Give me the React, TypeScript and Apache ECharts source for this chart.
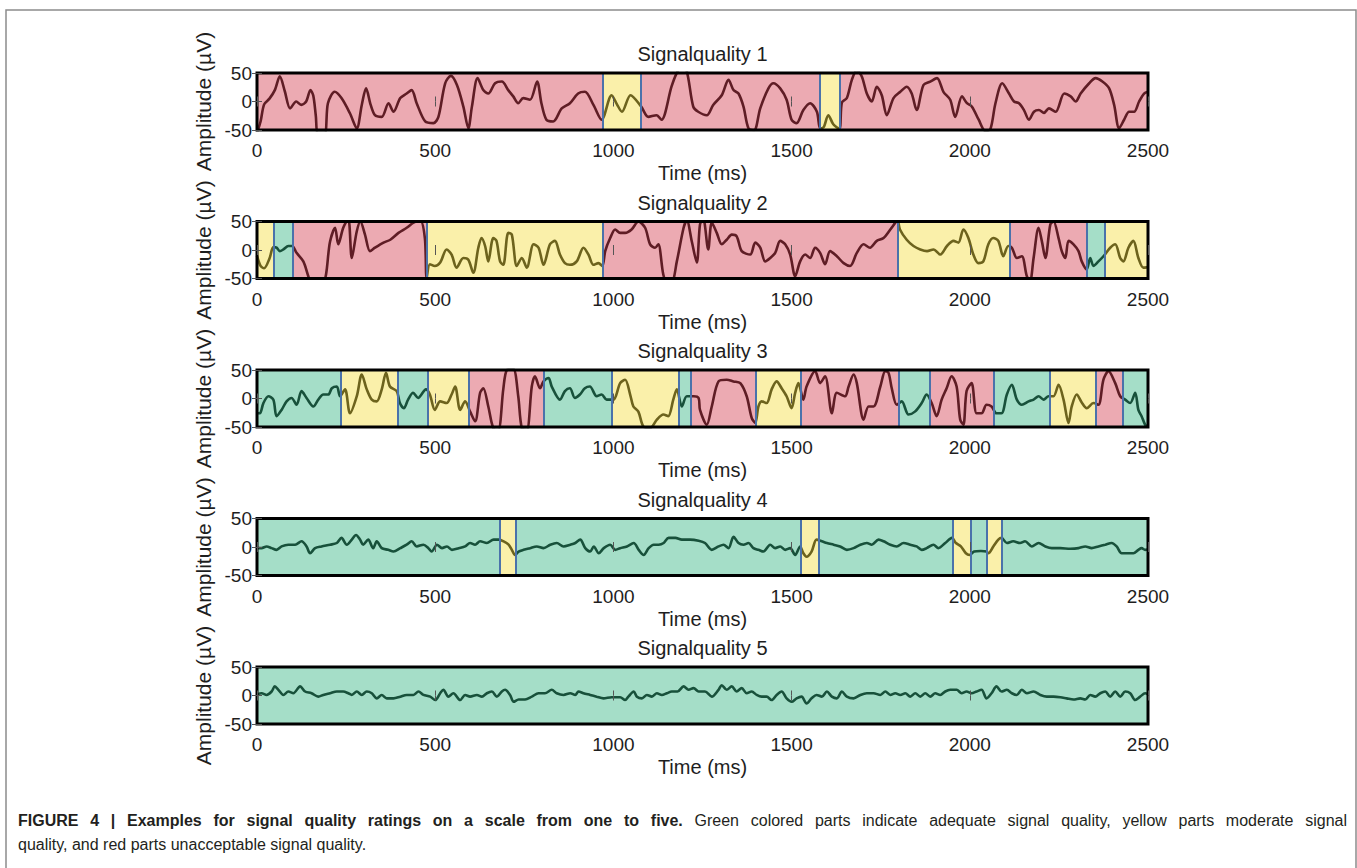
import { useEffect, useRef } from 'react';
import * as echarts from 'echarts';

const titles = ['Signalquality 1', 'Signalquality 2', 'Signalquality 3', 'Signalquality 4', 'Signalquality 5'];
const xName = 'Time (ms)';
const yName = 'Amplitude (µV)';
const xMin = 0, xMax = 2500, xStep = 500;
const yMin = -50, yMax = 50, yStep = 50;

const captionBold = 'FIGURE 4 | Examples for signal quality ratings on a scale from one to five.';
const captionLine1 = 'Green colored parts indicate adequate signal quality, yellow parts moderate signal';
const captionLine2 = 'quality, and red parts unacceptable signal quality.';

// signal traces [time ms, amplitude µV]
const sig1 = [[0,-55],[10,-35],[20,-5],[35,5],[50,20],[64,44],[78,18],[93,-12],[110,0],[124,-6],[138,0],[150,20],[158,10],[165,-25],[171,-55],[190,-55],[199,-3],[218,17],[237,6],[261,-21],[280,-47],[294,-6],[306,23],[319,-6],[331,-24],[350,-27],[369,-3],[383,-18],[402,6],[420,14],[434,20],[448,-3],[472,-35],[495,-38],[509,-27],[528,32],[544,45],[561,29],[579,-9],[593,-47],[603,-9],[619,41],[635,20],[649,14],[668,32],[687,35],[705,20],[719,9],[733,-3],[747,6],[766,3],[786,35],[798,-3],[812,-32],[831,-35],[855,-12],[878,-3],[901,14],[920,17],[944,-6],[967,-32],[995,11],[1010,-5],[1024,-18],[1048,11],[1078,-9],[1098,-27],[1121,-24],[1135,-32],[1163,26],[1177,49],[1190,60],[1205,55],[1224,-9],[1238,-18],[1262,-24],[1280,-6],[1304,11],[1323,38],[1337,20],[1351,14],[1365,-9],[1379,-47],[1395,-50],[1412,-12],[1435,23],[1449,32],[1468,23],[1486,3],[1500,-32],[1514,-38],[1533,-15],[1552,-3],[1571,-18],[1580,-47],[1590,-45],[1603,-24],[1617,-40],[1634,-48],[1641,-2],[1655,6],[1669,38],[1683,55],[1697,44],[1711,14],[1725,0],[1739,26],[1753,11],[1767,-24],[1786,6],[1805,17],[1823,26],[1837,14],[1851,-15],[1870,29],[1889,35],[1908,41],[1926,17],[1945,3],[1959,-27],[1978,9],[1992,-3],[2006,-9],[2025,-32],[2044,-52],[2058,-48],[2072,-3],[2091,32],[2110,14],[2124,0],[2138,-3],[2152,-15],[2166,-32],[2180,-18],[2194,-15],[2208,-20],[2222,-12],[2241,-18],[2265,14],[2283,9],[2297,0],[2311,14],[2335,32],[2353,41],[2372,35],[2391,23],[2405,-6],[2419,-47],[2433,-32],[2447,-18],[2461,-18],[2475,0],[2489,14],[2500,17]];
const sig2 = [[0,-10],[10,-28],[20,-32],[35,-15],[46,5],[55,4],[64,-2],[74,1],[88,7],[99,7],[111,-5],[130,-20],[144,-46],[150,-55],[185,-55],[205,15],[219,39],[228,10],[242,39],[256,55],[266,-14],[280,33],[290,50],[303,27],[317,-2],[331,4],[355,13],[374,18],[397,30],[420,39],[439,48],[458,52],[471,21],[476,-49],[485,-25],[499,-28],[514,-22],[532,1],[546,-8],[560,-31],[579,-14],[593,-17],[607,-40],[621,4],[630,21],[640,7],[649,-20],[663,21],[672,16],[682,-20],[691,-26],[705,30],[715,27],[729,-28],[743,-14],[757,-31],[776,10],[790,4],[804,-26],[822,10],[836,16],[850,-8],[864,-23],[878,-26],[897,-20],[916,4],[930,-8],[944,-26],[958,-23],[969,-28],[977,-2],[991,21],[1005,36],[1019,30],[1033,30],[1051,36],[1070,50],[1089,39],[1103,10],[1117,4],[1126,10],[1140,-43],[1150,-55],[1164,-55],[1178,-20],[1197,39],[1206,52],[1220,15],[1234,-22],[1243,45],[1252,55],[1266,1],[1276,48],[1290,30],[1304,10],[1318,18],[1332,27],[1346,24],[1360,-2],[1384,-8],[1398,13],[1412,4],[1426,-20],[1440,-14],[1454,-5],[1468,16],[1482,10],[1496,-8],[1510,-46],[1524,-20],[1538,-8],[1552,-14],[1566,4],[1580,-5],[1594,-25],[1608,-2],[1627,-11],[1646,-23],[1664,-28],[1683,-5],[1702,10],[1720,4],[1739,16],[1758,21],[1777,36],[1791,48],[1797,53],[1804,36],[1823,18],[1842,7],[1861,1],[1880,-2],[1898,1],[1917,-8],[1936,7],[1954,16],[1968,13],[1982,36],[1996,21],[2010,-8],[2024,-23],[2038,-20],[2052,10],[2066,21],[2080,16],[2094,-11],[2108,7],[2118,4],[2132,-14],[2146,-11],[2160,-46],[2169,-55],[2179,-14],[2193,39],[2202,16],[2212,-14],[2226,45],[2235,50],[2249,21],[2258,-2],[2268,-14],[2277,16],[2291,10],[2305,-2],[2314,-20],[2328,-34],[2338,-14],[2347,-28],[2361,-20],[2375,-11],[2394,4],[2408,10],[2422,-14],[2431,-20],[2445,4],[2459,16],[2473,-14],[2487,-31],[2500,-30]];
const sig3 = [[0,-26],[8,-26],[18,-8],[32,4],[46,-2],[55,-31],[69,-20],[83,-5],[97,1],[111,-11],[125,13],[139,1],[158,-14],[172,-2],[186,7],[200,7],[210,18],[224,21],[233,4],[247,16],[261,-26],[280,4],[294,42],[308,16],[322,-2],[336,-5],[350,16],[362,45],[373,21],[392,13],[401,-8],[412,-17],[424,-2],[438,10],[452,1],[474,16],[485,7],[499,-20],[514,-5],[532,-8],[546,7],[556,21],[570,-20],[584,-5],[598,-23],[612,-40],[626,10],[635,18],[649,-14],[663,-52],[677,-55],[691,16],[701,50],[719,52],[733,4],[743,-52],[757,-55],[771,21],[780,39],[794,18],[804,30],[818,36],[827,21],[850,-2],[864,13],[878,18],[892,1],[906,7],[920,18],[934,21],[953,4],[967,7],[981,-2],[1000,-2],[1019,27],[1033,33],[1047,7],[1056,-14],[1070,-23],[1084,-49],[1103,-52],[1122,-37],[1140,-28],[1154,-31],[1168,-2],[1178,16],[1192,-14],[1206,4],[1225,4],[1239,1],[1243,-20],[1262,-46],[1276,-14],[1295,30],[1318,33],[1337,30],[1356,27],[1374,4],[1388,-34],[1398,-43],[1407,-14],[1416,-5],[1430,-8],[1444,16],[1458,30],[1472,18],[1486,4],[1500,-17],[1510,10],[1519,27],[1533,-2],[1542,21],[1566,48],[1580,27],[1594,39],[1613,-26],[1627,10],[1650,4],[1660,21],[1674,42],[1683,27],[1702,-37],[1716,-14],[1730,-14],[1749,21],[1763,48],[1772,45],[1781,18],[1795,-11],[1809,-5],[1828,-28],[1846,-23],[1865,-8],[1879,7],[1893,-8],[1907,-31],[1921,-2],[1935,18],[1949,39],[1963,21],[1973,-37],[1982,-46],[1991,13],[2005,27],[2019,-26],[2033,-26],[2047,-11],[2061,-14],[2075,-26],[2089,-26],[2104,7],[2118,24],[2132,-2],[2146,-11],[2165,-5],[2179,-2],[2193,4],[2207,-2],[2221,4],[2235,4],[2249,24],[2263,-2],[2277,-43],[2286,-14],[2300,7],[2315,-8],[2328,-17],[2347,-8],[2361,-11],[2375,33],[2389,48],[2408,27],[2422,4],[2436,-2],[2450,-8],[2464,10],[2473,-20],[2482,-31],[2492,-46],[2500,-50]];
const sig4 = [[0,-2],[13,-2],[27,1],[41,-2],[55,-5],[69,1],[88,4],[107,4],[125,10],[139,1],[149,-11],[163,-2],[181,1],[205,4],[224,7],[237,16],[252,4],[266,13],[278,21],[289,13],[298,4],[312,13],[326,-2],[336,10],[350,-2],[368,-5],[383,-8],[402,-2],[420,4],[434,10],[448,1],[467,4],[481,-2],[490,-8],[505,4],[519,-2],[533,1],[547,-5],[566,-2],[584,1],[598,7],[612,4],[626,10],[645,7],[664,13],[678,13],[692,10],[706,4],[715,-5],[724,-14],[734,-8],[748,-5],[766,-2],[785,1],[804,-2],[823,4],[841,7],[860,1],[879,4],[893,7],[907,13],[921,-2],[935,-8],[945,1],[959,-11],[973,-2],[991,4],[1005,-5],[1019,-2],[1038,1],[1057,7],[1071,-5],[1085,-14],[1099,-2],[1113,4],[1127,4],[1141,7],[1155,16],[1174,16],[1192,13],[1215,13],[1239,11],[1257,7],[1276,-5],[1295,1],[1309,4],[1323,-2],[1337,18],[1351,7],[1365,4],[1379,7],[1393,-2],[1407,-5],[1421,-8],[1440,4],[1454,-2],[1468,1],[1482,-5],[1496,-2],[1510,-14],[1524,1],[1533,-11],[1542,-17],[1556,-8],[1570,13],[1585,10],[1599,7],[1618,4],[1636,1],[1655,-5],[1674,-2],[1693,4],[1711,7],[1725,4],[1744,13],[1758,10],[1777,4],[1795,1],[1814,7],[1833,4],[1851,1],[1865,-5],[1879,-2],[1898,4],[1912,-2],[1931,7],[1950,16],[1961,7],[1975,1],[1989,-11],[1999,-14],[2012,-8],[2031,-7],[2047,-8],[2052,-11],[2066,1],[2080,13],[2089,16],[2104,7],[2122,10],[2141,7],[2155,10],[2174,1],[2193,7],[2212,1],[2230,-2],[2254,-2],[2282,-3],[2305,-2],[2324,1],[2342,-2],[2361,1],[2380,4],[2398,7],[2412,1],[2426,-11],[2440,-11],[2459,-11],[2473,-5],[2482,-2],[2492,-5],[2500,-4]];
const sig5 = [[0,2],[13,4],[27,1],[41,7],[50,16],[60,10],[74,1],[88,7],[102,4],[121,16],[135,7],[153,4],[172,-2],[186,1],[205,4],[224,7],[242,7],[256,4],[266,1],[280,7],[294,1],[308,7],[322,4],[336,-5],[350,1],[364,-5],[383,-5],[402,-2],[420,1],[439,1],[453,7],[467,1],[486,-2],[500,-8],[514,4],[523,10],[537,-2],[551,4],[570,-8],[584,1],[598,-2],[617,1],[631,-2],[645,4],[659,7],[673,-2],[687,7],[696,10],[710,1],[720,-11],[734,-7],[752,-7],[771,-2],[790,4],[808,4],[827,10],[841,4],[860,1],[879,4],[893,1],[902,7],[916,4],[935,1],[953,-2],[972,-5],[995,-3],[1019,-3],[1033,-8],[1042,-2],[1057,7],[1066,-2],[1080,-5],[1094,1],[1108,-2],[1122,4],[1136,1],[1150,4],[1164,7],[1180,7],[1197,16],[1211,10],[1225,13],[1239,7],[1257,7],[1276,-2],[1295,10],[1304,18],[1318,10],[1332,16],[1346,7],[1360,13],[1374,4],[1388,7],[1402,1],[1416,-2],[1430,-2],[1444,-8],[1458,1],[1472,7],[1486,-5],[1500,-11],[1514,-5],[1528,-2],[1542,-14],[1556,-5],[1570,1],[1585,-2],[1599,7],[1613,-2],[1627,-5],[1641,7],[1655,-2],[1674,-5],[1693,1],[1711,4],[1730,4],[1749,1],[1763,7],[1777,1],[1791,4],[1805,1],[1819,4],[1833,-2],[1847,4],[1861,-2],[1875,4],[1889,-2],[1903,4],[1917,1],[1931,7],[1945,10],[1963,10],[1977,4],[1991,7],[2005,4],[2019,7],[2033,10],[2047,-5],[2061,4],[2075,16],[2089,7],[2104,10],[2118,4],[2132,1],[2146,10],[2160,4],[2179,7],[2198,1],[2216,-2],[2235,-2],[2254,-3],[2272,-5],[2291,-7],[2310,-5],[2324,-7],[2338,1],[2352,-2],[2366,4],[2380,7],[2394,-2],[2408,7],[2422,-2],[2436,7],[2450,4],[2464,-8],[2478,-2],[2492,4],[2500,2]];

// quality segments [start ms, end ms, rating]
const seg1 = [[0,970,'r'],[970,1077,'y'],[1077,1578,'r'],[1578,1636,'y'],[1636,2500,'r']];
const seg2 = [[0,46,'y'],[46,99,'g'],[99,476,'r'],[476,969,'y'],[969,1797,'r'],[1797,2113,'y'],[2113,2328,'r'],[2328,2379,'g'],[2379,2500,'y']];
const seg3 = [[0,235,'g'],[235,394,'y'],[394,478,'g'],[478,593,'y'],[593,805,'r'],[805,995,'g'],[995,1184,'y'],[1184,1217,'g'],[1217,1400,'r'],[1400,1526,'y'],[1526,1800,'r'],[1800,1887,'g'],[1887,2066,'r'],[2066,2223,'g'],[2223,2354,'y'],[2354,2429,'r'],[2429,2500,'g']];
const seg4 = [[0,680,'g'],[680,726,'y'],[726,1526,'g'],[1526,1577,'y'],[1577,1952,'g'],[1952,2003,'y'],[2003,2047,'g'],[2047,2091,'y'],[2091,2500,'g']];
const seg5 = [[0,2500,'g']];

const SIGNALS = [sig1, sig2, sig3, sig4, sig5];
const SEGMENTS = [seg1, seg2, seg3, seg4, seg5];

const QUALITY_COLOR: Record<string, string> = {
  r: 'rgba(207,42,62,0.40)',
  y: 'rgba(242,217,42,0.40)',
  g: 'rgba(30,172,117,0.40)',
};

const FONT = '"Liberation Sans", Arial, Helvetica, sans-serif';
const TEXT = '#1e1e1e';
const CAP = '#231f20';
const W = 1357, H = 868;
const PLOT_LEFT = 257, PLOT_WIDTH = 891, PLOT_TOP = 73, PLOT_STEP = 148.5, PLOT_HEIGHT = 57;

function buildCaption() {
  const ctx = document.createElement('canvas').getContext('2d')!;
  const size = 16;
  const fb = `bold ${size}px ${FONT}`;
  const fr = `${size}px ${FONT}`;
  const words = [
    ...captionBold.split(' ').map((w) => ({ w, b: true })),
    ...captionLine1.split(' ').map((w) => ({ w, b: false })),
  ];
  let sum = 0;
  words.forEach((wd) => {
    ctx.font = wd.b ? fb : fr;
    sum += ctx.measureText(wd.w).width;
  });
  const left = 18, right = 1347;
  const gap = Math.max(4, (right - left - sum) / (words.length - 1));
  const text = words
    .map((wd, i) => `{${wd.b ? 'b' : 'r'}|${wd.w}}` + (i < words.length - 1 ? '{s| }' : ''))
    .join('');
  return [
    {
      type: 'text', x: left, y: 820, z: 20,
      style: {
        text, fontFamily: FONT, fontSize: size, fill: CAP, verticalAlign: 'middle',
        rich: {
          b: { fontWeight: 'bold', fontSize: size, fontFamily: FONT, fill: CAP },
          r: { fontSize: size, fontFamily: FONT, fill: CAP },
          s: { width: gap, fontSize: size, fontFamily: FONT },
        },
      },
    },
    {
      type: 'text', x: left, y: 844, z: 20,
      style: { text: captionLine2, fontFamily: FONT, fontSize: size, fill: CAP, verticalAlign: 'middle' },
    },
  ];
}

export default function App() {
  const ref = useRef<HTMLDivElement>(null);
  useEffect(() => {
    const chart = echarts.init(ref.current!, null, { renderer: 'svg' });
    const grids: any[] = [];
    const xAxes: any[] = [];
    const yAxes: any[] = [];
    const series: any[] = [];
    const graphics: any[] = [];

    titles.forEach((title, i) => {
      const top = PLOT_TOP + i * PLOT_STEP;
      grids.push({
        left: PLOT_LEFT, top, width: PLOT_WIDTH, height: PLOT_HEIGHT,
        show: true, z: 10, backgroundColor: 'transparent', borderColor: '#000', borderWidth: 3,
        containLabel: false,
      });
      const tick = { show: true, inside: true, length: 5, lineStyle: { color: '#555', width: 1 } };
      xAxes.push({
        gridIndex: i, type: 'value', min: xMin, max: xMax, interval: xStep, position: 'bottom', z: 11,
        axisLine: { show: false }, axisTick: tick, splitLine: { show: false },
        axisLabel: { fontSize: 19, color: TEXT, margin: 11, fontFamily: FONT, formatter: (v: number) => String(v) },
        name: xName, nameLocation: 'middle', nameGap: 33,
        nameTextStyle: { fontSize: 20, color: TEXT, fontFamily: FONT },
      });
      xAxes.push({
        gridIndex: i, type: 'value', min: xMin, max: xMax, interval: xStep, position: 'top', z: 11,
        axisLine: { show: false }, axisTick: tick, splitLine: { show: false }, axisLabel: { show: false },
      });
      yAxes.push({
        gridIndex: i, type: 'value', min: yMin, max: yMax, interval: yStep, position: 'left', z: 11,
        axisLine: { show: false }, axisTick: tick, splitLine: { show: false },
        axisLabel: { fontSize: 19, color: TEXT, margin: 5, fontFamily: FONT, formatter: (v: number) => String(v) },
        name: yName, nameLocation: 'middle', nameGap: 40, nameRotate: 90,
        nameTextStyle: { fontSize: 21, color: TEXT, fontFamily: FONT },
      });
      yAxes.push({
        gridIndex: i, type: 'value', min: yMin, max: yMax, interval: yStep, position: 'right', z: 11,
        axisLine: { show: false }, axisTick: tick, splitLine: { show: false }, axisLabel: { show: false },
      });

      const segs = SEGMENTS[i];
      series.push({
        type: 'line',
        xAxisIndex: 2 * i,
        yAxisIndex: 2 * i,
        data: SIGNALS[i],
        smooth: 0.3,
        showSymbol: false,
        symbol: 'none',
        clip: true,
        z: 2,
        lineStyle: { color: '#141414', width: 2.6 },
        markArea: {
          z: 3,
          silent: true,
          data: segs.map((s) => [
            { xAxis: s[0], itemStyle: { color: QUALITY_COLOR[s[2] as string] } },
            { xAxis: s[1] },
          ]),
        },
        markLine: {
          z: 4,
          silent: true,
          symbol: ['none', 'none'],
          label: { show: false },
          lineStyle: { color: '#4a72ab', width: 2, type: 'solid' },
          data: segs.slice(1).map((s) => ({ xAxis: s[0] })),
        },
      });

      graphics.push({
        type: 'text',
        x: PLOT_LEFT + PLOT_WIDTH / 2,
        y: top - 19,
        z: 20,
        style: { text: title, fontFamily: FONT, fontSize: 20, fill: TEXT, align: 'center', verticalAlign: 'middle' },
      });
    });

    graphics.push({
      type: 'rect',
      z: 0,
      shape: { x: 6, y: 10, width: 1350, height: 900 },
      style: { fill: 'none', stroke: '#8c8c8c', lineWidth: 1.5 },
    });
    graphics.push(...buildCaption());

    chart.setOption({
      animation: false,
      backgroundColor: '#ffffff',
      textStyle: { fontFamily: FONT },
      grid: grids,
      xAxis: xAxes,
      yAxis: yAxes,
      series,
      graphic: graphics,
    });
    return () => chart.dispose();
  }, []);
  return <div ref={ref} style={{ position: 'fixed', left: 0, top: 0, width: W, height: H, background: '#fff' }} />;
}
